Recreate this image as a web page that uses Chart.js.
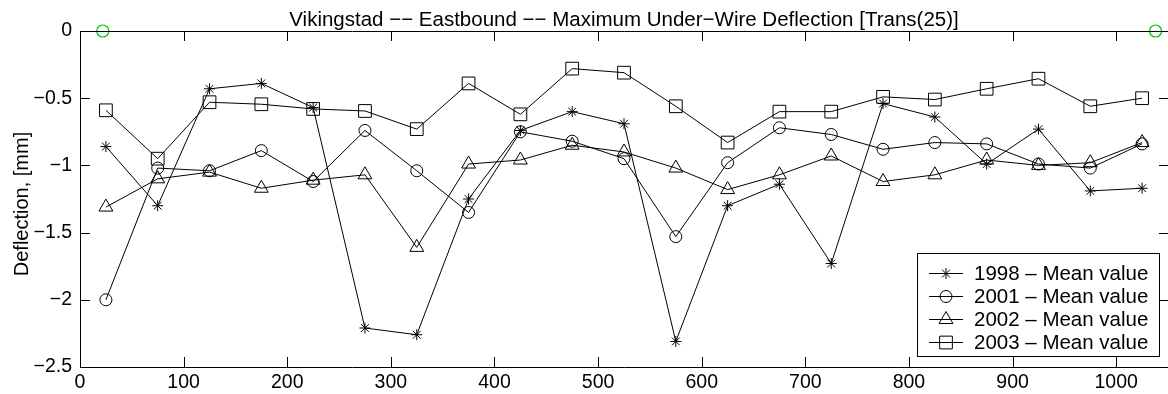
<!DOCTYPE html>
<html>
<head>
  <meta charset="UTF-8">
  <title>Vikingstad Eastbound Deflection</title>
  <style>
    html, body { margin: 0; padding: 0; background: #fff; }
    #wrap { width: 1168px; height: 394px; position: relative; }
  </style>
  <script src="https://cdn.jsdelivr.net/npm/chart.js"></script>
</head>
<body>
<div id="wrap"><canvas id="defChart"></canvas></div>
<script>
const FONT = '"Liberation Sans", Arial, Helvetica, sans-serif';

// measuring positions along the track [m]
const positions = [25, 75, 125, 175, 225, 275, 325, 375, 425, 475, 525,
                   575, 625, 675, 725, 775, 825, 875, 925, 975, 1025];

// mean max under-wire deflection [mm]
const mean1998 = [-0.86, -1.30, -0.43, -0.39, -0.57, -2.21, -2.26, -1.25, -0.74, -0.60, -0.69,
                  -2.31, -1.30, -1.14, -1.73, -0.54, -0.64, -0.99, -0.73, -1.19, -1.17];
const mean2001 = [-2.00, -1.02, -1.04, -0.89, -1.12, -0.74, -1.04, -1.35, -0.75, -0.82, -0.95,
                  -1.53, -0.98, -0.72, -0.77, -0.88, -0.83, -0.84, -0.99, -1.02, -0.84];
const mean2002 = [-1.31, -1.10, -1.05, -1.17, -1.11, -1.07, -1.61, -0.99, -0.96, -0.85, -0.90,
                  -1.02, -1.18, -1.07, -0.93, -1.12, -1.07, -0.96, -1.00, -0.98, -0.83];
const mean2003 = [-0.59, -0.95, -0.53, -0.545, -0.58, -0.595, -0.73, -0.39, -0.62, -0.28, -0.31,
                  -0.56, -0.83, -0.60, -0.60, -0.49, -0.51, -0.43, -0.355, -0.56, -0.50];

// the two green reference markers on the zero line
const refX = [22, 1038];
const refY = [0, 0];

const seriesNames = ['1998 \u2013 Mean value', '2001 \u2013 Mean value',
                     '2002 \u2013 Mean value', '2003 \u2013 Mean value'];
const seriesData = [mean1998, mean2001, mean2002, mean2003];
const markers = ['star', 'circle', 'triangle', 'rect'];
const markerSize = [5.5, 6, 8, 9];

const xTicks = [0, 100, 200, 300, 400, 500, 600, 700, 800, 900, 1000];
const yTicks = [-2.5, -2, -1.5, -1, -0.5, 0];

const titleText = 'Vikingstad \u2212\u2212 Eastbound \u2212\u2212 Maximum Under\u2212Wire Deflection [Trans(25)]';
const yLabel = 'Deflection, [mm]';

function pts(ys) {
  return ys.map((y, i) => ({ x: positions[i], y: y }));
}

const datasets = seriesData.map((ys, i) => ({
  label: seriesNames[i],
  data: pts(ys),
  borderColor: '#000',
  borderWidth: 1,
  pointStyle: markers[i],
  pointRadius: markerSize[i],
  pointBorderColor: '#000',
  pointBorderWidth: 1,
  pointBackgroundColor: 'rgba(0,0,0,0)',
  fill: false,
  tension: 0
}));

datasets.push({
  label: 'ref',
  data: refX.map((x, i) => ({ x: x, y: refY[i] })),
  showLine: false,
  pointStyle: 'circle',
  pointRadius: 6,
  pointBorderColor: '#00c000',
  pointBorderWidth: 1.2,
  pointBackgroundColor: 'rgba(0,0,0,0)',
  clip: false
});

// frame, inward ticks, title, y label and legend box
const matlabLook = {
  id: 'matlabLook',
  afterDraw(chart) {
    const ctx = chart.ctx;
    const a = chart.chartArea;
    const xs = chart.scales.x, ys = chart.scales.y;
    ctx.save();
    ctx.strokeStyle = '#000';
    ctx.lineWidth = 1;
    ctx.beginPath();
    // right edge of the box falls just outside the picture
    ctx.moveTo(a.right, a.top + 0.5);
    ctx.lineTo(a.left + 0.5, a.top + 0.5);
    ctx.lineTo(a.left + 0.5, a.bottom + 0.5);
    ctx.lineTo(a.right, a.bottom + 0.5);
    xTicks.forEach(v => {
      const px = Math.round(xs.getPixelForValue(v)) + 0.5;
      ctx.moveTo(px, a.bottom); ctx.lineTo(px, a.bottom - 10);
      ctx.moveTo(px, a.top); ctx.lineTo(px, a.top + 10);
    });
    yTicks.forEach(v => {
      const py = Math.round(ys.getPixelForValue(v)) + 0.5;
      ctx.moveTo(a.left, py); ctx.lineTo(a.left + 10, py);
      ctx.moveTo(a.right, py); ctx.lineTo(a.right - 9, py);
    });
    ctx.stroke();

    ctx.fillStyle = '#000';
    ctx.font = '20.5px ' + FONT;
    ctx.textAlign = 'center';
    ctx.textBaseline = 'alphabetic';
    ctx.fillText(titleText, (a.left + a.right) / 2, 26);

    ctx.save();
    ctx.font = '20px ' + FONT;
    ctx.translate(28, (a.top + a.bottom) / 2 + 5);
    ctx.rotate(-Math.PI / 2);
    ctx.fillText(yLabel, 0, 0);
    ctx.restore();

    // legend
    const lx = 917, ly = 253, lw = 242, lh = 103;
    ctx.fillStyle = '#fff';
    ctx.fillRect(lx, ly, lw, lh);
    ctx.strokeRect(lx + 0.5, ly + 0.5, lw, lh);
    ctx.font = '20.5px ' + FONT;
    ctx.textAlign = 'left';
    ctx.textBaseline = 'middle';
    seriesNames.forEach((name, i) => {
      const y = ly + 20 + i * 23;
      ctx.beginPath();
      ctx.moveTo(929, y + 0.5); ctx.lineTo(963, y + 0.5);
      ctx.stroke();
      ctx.fillStyle = 'rgba(0,0,0,0)';
      Chart.helpers.drawPoint(ctx, {
        pointStyle: markers[i], radius: markerSize[i], rotation: 0, borderWidth: 1
      }, 946, y + 0.5);
      ctx.fillStyle = '#000';
      ctx.fillText(name, 974, y + 1);
    });
    ctx.restore();
  }
};

new Chart(document.getElementById('defChart'), {
  type: 'line',
  data: { datasets: datasets },
  options: {
    responsive: true,
    maintainAspectRatio: false,
    devicePixelRatio: 1,
    animation: false,
    layout: { autoPadding: false, padding: { top: 31, right: 0, left: 0, bottom: 0 } },
    plugins: {
      legend: { display: false },
      title: { display: false },
      tooltip: { enabled: false }
    },
    scales: {
      x: {
        type: 'linear',
        min: 0,
        max: 1050,
        afterFit: s => { s.height = 27; s.paddingLeft = 0; s.paddingRight = 0; },
        afterBuildTicks: s => { s.ticks = xTicks.map(v => ({ value: v })); },
        grid: { display: false, drawTicks: false },
        border: { display: false },
        ticks: {
          color: '#000',
          font: { size: 19.5, family: FONT },
          padding: 4,
          maxRotation: 0,
          callback: v => String(v)
        }
      },
      y: {
        type: 'linear',
        min: -2.5,
        max: 0,
        afterFit: s => { s.width = 80; s.paddingTop = 0; s.paddingBottom = 0; },
        afterBuildTicks: s => { s.ticks = yTicks.map(v => ({ value: v })); },
        grid: { display: false, drawTicks: false },
        border: { display: false },
        ticks: {
          color: '#000',
          font: { size: 19.5, family: FONT },
          padding: 8,
          callback: v => String(v).replace('-', '\u2212')
        }
      }
    }
  },
  plugins: [matlabLook]
});
</script>
</body>
</html>
